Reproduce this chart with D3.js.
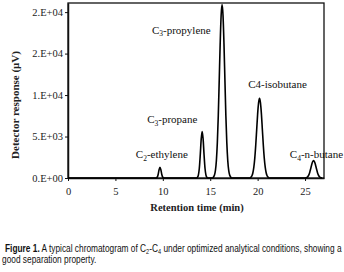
<!DOCTYPE html>
<html>
<head>
<meta charset="utf-8">
<script src="https://cdn.jsdelivr.net/npm/d3@7"></script>
<style>
  body { margin: 0; background: #fff; }
  svg { display: block; }
</style>
</head>
<body>
<div id="chart"></div>
<script>
// retention time (min) and detector response (uV)
let traceTime = [0, 9.3, 9.4, 9.5, 9.6, 9.7, 9.8, 9.9, 10.0, 10.1,
  13.55, 13.65, 13.75, 13.85, 13.95, 14.05, 14.15, 14.25, 14.35, 14.45, 14.55, 14.65, 14.75,
  15.25, 15.35, 15.45, 15.55, 15.65, 15.75, 15.85, 15.95, 16.05, 16.15, 16.25, 16.35, 16.45, 16.55, 16.65, 16.75, 16.85, 16.95, 17.05, 17.15, 17.25,
  19.2, 19.3, 19.4, 19.5, 19.6, 19.7, 19.8, 19.9, 20.0, 20.1, 20.2, 20.3, 20.4, 20.5, 20.6, 20.7, 20.8, 20.9, 21.0, 21.1, 21.2,
  25.0, 25.2, 25.3, 25.4, 25.5, 25.6, 25.7, 25.8, 25.9, 26.0, 26.1, 26.2, 26.3, 26.4, 26.5, 26.6, 26.7, 26.8, 27.0];
let traceResponse = [0, 0, 90, 400, 970, 1300, 970, 400, 90, 0,
  0, 75, 350, 1180, 2800, 4710, 5600, 4710, 2800, 1180, 350, 75, 0,
  0, 120, 360, 920, 2100, 4250, 7500, 11800, 16200, 19600, 20900, 19600, 16200, 11800, 7500, 4250, 2100, 920, 360, 120, 0,
  0, 105, 270, 630, 1300, 2400, 3950, 5820, 7700, 9050, 9600, 9050, 7700, 5820, 3950, 2400, 1300, 630, 270, 105, 0,
  0, 70, 180, 380, 700, 1140, 1600, 1960, 2100, 1960, 1600, 1140, 700, 380, 180, 70, 25, 0];

let xTicks = [0, 5, 10, 15, 20, 25];
let yTicks = [0, 5000, 10000, 15000, 20000];
let yTickLabels = ["0.E+00", "5.E+03", "1.E+04", "2.E+04", "2.E+04"];

// peak labels: [main, subscript, rest], anchored in data units
let peakNames = [["C", "2", "-ethylene"], ["C", "3", "-propane"], ["C", "3", "-propylene"], ["C4-isobutane", "", ""], ["C", "4", "-n-butane"]];
let peakLabelTime = [9.9, 11.0, 11.95, 22.1, 26.2];
let peakLabelResp = [2400, 6600, 17400, 10900, 2400];

let W = 344, H = 272;
let plotL = 68, plotR = 324, plotT = 3, plotB = 178;

let svg = d3.select("#chart").append("svg")
  .attr("width", W)
  .attr("height", H);

let xScale = d3.scaleLinear().domain([0, 27]).range([plotL, plotR]);
let yScale = d3.scaleLinear().domain([0, 21100]).range([plotB, plotT]);

// frame
svg.append("rect")
  .attr("x", plotL).attr("y", plotT)
  .attr("width", plotR - plotL).attr("height", plotB - plotT)
  .attr("fill", "none").attr("stroke", "#111").attr("stroke-width", 1.3);

let xAxis = d3.axisBottom(xScale).tickValues(xTicks).tickSize(3).tickSizeOuter(0);
let xg = svg.append("g").attr("transform", "translate(0," + plotB + ")").call(xAxis);
let yAxis = d3.axisLeft(yScale).tickValues(yTicks).tickSize(3).tickSizeOuter(0)
  .tickFormat((d, i) => yTickLabels[i]);
let yg = svg.append("g").attr("transform", "translate(" + plotL + ",0)").call(yAxis);

[xg, yg].forEach(g => {
  g.select(".domain").attr("stroke", "#111").attr("stroke-width", 1.5);
  g.selectAll(".tick line").attr("stroke", "#111").attr("stroke-width", 1);
  g.selectAll("text").attr("font-family", "'Liberation Serif', 'Times New Roman', serif")
    .attr("font-size", 10.5).attr("fill", "#222");
});
xg.selectAll("text").attr("dy", "1.0em");
yg.selectAll("text").attr("x", -5);

// trace
let points = traceTime.map((t, i) => [t, traceResponse[i]]);
let line = d3.line()
  .x(d => xScale(d[0]))
  .y(d => yScale(d[1]))
  .curve(d3.curveMonotoneX);
svg.append("path")
  .attr("d", line(points))
  .attr("fill", "none")
  .attr("stroke", "#000")
  .attr("stroke-width", 1.6);

// peak labels
peakNames.forEach((p, i) => {
  let t = svg.append("text")
    .attr("x", xScale(peakLabelTime[i]))
    .attr("y", yScale(peakLabelResp[i]))
    .attr("text-anchor", "middle")
    .attr("font-family", "'Liberation Serif', 'Times New Roman', serif")
    .attr("font-size", 11)
    .attr("fill", "#111");
  t.append("tspan").text(p[0]);
  if (p[1] != "") {
    t.append("tspan").attr("font-size", 7.5).attr("dy", 2.5).text(p[1]);
    t.append("tspan").attr("dy", -2.5).text(p[2]);
  }
});

// axis titles
svg.append("text")
  .attr("x", (plotL + plotR) / 2 + 1)
  .attr("y", 211)
  .attr("text-anchor", "middle")
  .attr("font-family", "'Liberation Serif', 'Times New Roman', serif")
  .attr("font-weight", "bold")
  .attr("font-size", 10.5)
  .attr("fill", "#222")
  .text("Retention time (min)");

svg.append("text")
  .attr("transform", "translate(19,105) rotate(-90)")
  .attr("text-anchor", "middle")
  .attr("font-family", "'Liberation Serif', 'Times New Roman', serif")
  .attr("font-weight", "bold")
  .attr("font-size", 11)
  .attr("fill", "#222")
  .text("Detector response (\u03bcV)");

// caption, squeezed horizontally like a narrow font
let capFont = "'Liberation Sans', Arial, sans-serif";
let capG = svg.append("g");
let cap = capG.append("text")
  .attr("x", 0).attr("y", 252)
  .attr("font-family", capFont)
  .attr("font-size", 10.5)
  .attr("fill", "#111");
cap.append("tspan").attr("font-weight", "bold").text("Figure 1.");
cap.append("tspan").text(" A typical chromatogram of C");
cap.append("tspan").attr("font-size", 7).attr("dy", 2).text("2");
cap.append("tspan").attr("dy", -2).text("-C");
cap.append("tspan").attr("font-size", 7).attr("dy", 2).text("4");
cap.append("tspan").attr("dy", -2).text(" under optimized analytical conditions, showing a");

let cap2 = capG.append("text")
  .attr("x", 0).attr("y", 263)
  .attr("font-family", capFont)
  .attr("font-size", 10.5)
  .attr("fill", "#111")
  .text("good separation property.");

let capW = cap.node().getBBox().width;
let sx = 337 / capW;
capG.attr("transform", "translate(5,0) scale(" + sx + ",1)");
cap2.attr("x", -3 / sx);
</script>
</body>
</html>
